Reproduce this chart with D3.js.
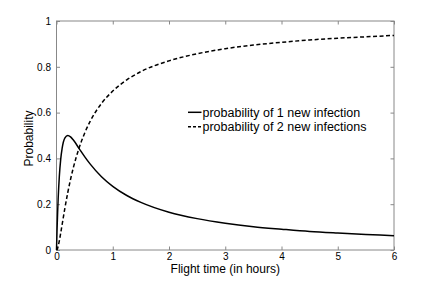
<!DOCTYPE html>
<html>
<head>
<meta charset="utf-8">
<script src="https://cdn.jsdelivr.net/npm/d3@7"></script>
<style>
  body { margin: 0; background: #fff; }
  svg { display: block; font-family: "Liberation Sans", Arial, sans-serif; }
</style>
</head>
<body>
<div id="chart"></div>
<script>
// Data
var hours = [0, 0.01, 0.02, 0.03, 0.05, 0.075, 0.1, 0.15, 0.2, 0.25, 0.3, 0.4, 0.5, 0.6, 0.8,
             1, 1.25, 1.5, 2, 2.5, 3, 3.5, 4, 4.5, 5, 5.5, 6];
var oneNew = [0, 0.091, 0.165, 0.227, 0.32, 0.397, 0.444, 0.49, 0.5, 0.494, 0.48, 0.444, 0.408, 0.375, 0.32,
              0.278, 0.238, 0.208, 0.165, 0.137, 0.117, 0.102, 0.091, 0.081, 0.074, 0.068, 0.062];
var twoNew = [0, 0.002, 0.008, 0.017, 0.04, 0.074, 0.111, 0.184, 0.25, 0.309, 0.36, 0.444, 0.51, 0.563, 0.64,
              0.694, 0.743, 0.779, 0.826, 0.857, 0.879, 0.895, 0.907, 0.917, 0.925, 0.931, 0.937];
var xTicks = [0, 1, 2, 3, 4, 5, 6];
var yTicks = [0, 0.2, 0.4, 0.6, 0.8, 1];
var legendLabels = ['probability of 1 new infection', 'probability of 2 new infections'];

var W = 436, H = 281;
var margin = {top: 21, right: 42, bottom: 31, left: 56.5};
var width = W - margin.left - margin.right,
    height = H - margin.top - margin.bottom;

var svg = d3.select('#chart').append('svg')
    .attr('width', W)
    .attr('height', H);

var g = svg.append('g')
    .attr('transform', 'translate(' + margin.left + ',' + margin.top + ')');

var xScale = d3.scaleLinear().domain([0, 6]).range([0, width]);
var yScale = d3.scaleLinear().domain([0, 1]).range([height, 0]);

var axisColor = '#888';

// box
g.append('rect')
    .attr('x', 0).attr('y', 0)
    .attr('width', width).attr('height', height)
    .attr('fill', 'none')
    .attr('stroke', axisColor)
    .attr('stroke-width', 1);

// inward ticks on all four sides
function styleAxis(sel) {
  sel.select('.domain').remove();
  sel.selectAll('.tick line').attr('stroke', axisColor);
  sel.selectAll('.tick text').attr('fill', '#000').style('font-size', '10px');
}

g.append('g')
    .attr('transform', 'translate(0,' + height + ')')
    .call(d3.axisBottom(xScale).tickValues(xTicks).tickFormat(d3.format('d')).tickSizeInner(-3.5).tickPadding(2.5))
    .call(styleAxis);

g.append('g')
    .call(d3.axisTop(xScale).tickValues(xTicks).tickFormat('').tickSizeInner(-3.5))
    .call(styleAxis);

g.append('g')
    .call(d3.axisLeft(yScale).tickValues(yTicks).tickFormat(function(d) { return d === 0 || d === 1 ? d : d.toFixed(1); })
      .tickSizeInner(-3.5).tickPadding(5.5))
    .call(styleAxis);

g.append('g')
    .attr('transform', 'translate(' + width + ',0)')
    .call(d3.axisRight(yScale).tickValues(yTicks).tickFormat('').tickSizeInner(-3.5))
    .call(styleAxis);

// curves
var line = d3.line()
    .x(function(d, i) { return xScale(hours[i]); })
    .y(function(d) { return yScale(d); })
    .curve(d3.curveMonotoneX);

g.append('path')
    .datum(oneNew)
    .attr('fill', 'none')
    .attr('stroke', '#000')
    .attr('stroke-width', 1.5)
    .attr('d', line);

g.append('path')
    .datum(twoNew)
    .attr('fill', 'none')
    .attr('stroke', '#000')
    .attr('stroke-width', 1.5)
    .attr('stroke-dasharray', '4,2.5')
    .attr('d', line);

// legend (no box)
var legend = g.append('g').attr('transform', 'translate(' + (188 - margin.left) + ',' + (112.3 - margin.top) + ')');
legendLabels.forEach(function(lbl, i) {
  var row = legend.append('g').attr('transform', 'translate(0,' + (i * 14.4) + ')');
  row.append('line')
      .attr('x1', 0).attr('x2', 13.5)
      .attr('y1', 0).attr('y2', 0)
      .attr('stroke', '#000')
      .attr('stroke-width', 1.5)
      .attr('stroke-dasharray', i === 1 ? '3,2' : null);
  row.append('text')
      .attr('x', 14.5).attr('y', 4.2)
      .style('font-size', '12.5px')
      .text(lbl);
});

// axis labels
svg.append('text')
    .attr('x', margin.left + width / 2)
    .attr('y', 273)
    .attr('text-anchor', 'middle')
    .style('font-size', '12px')
    .text('Flight time (in hours)');

svg.append('text')
    .attr('transform', 'translate(33,' + (margin.top + height / 2 + 3) + ') rotate(-90)')
    .attr('text-anchor', 'middle')
    .style('font-size', '12px')
    .text('Probability');
</script>
</body>
</html>
